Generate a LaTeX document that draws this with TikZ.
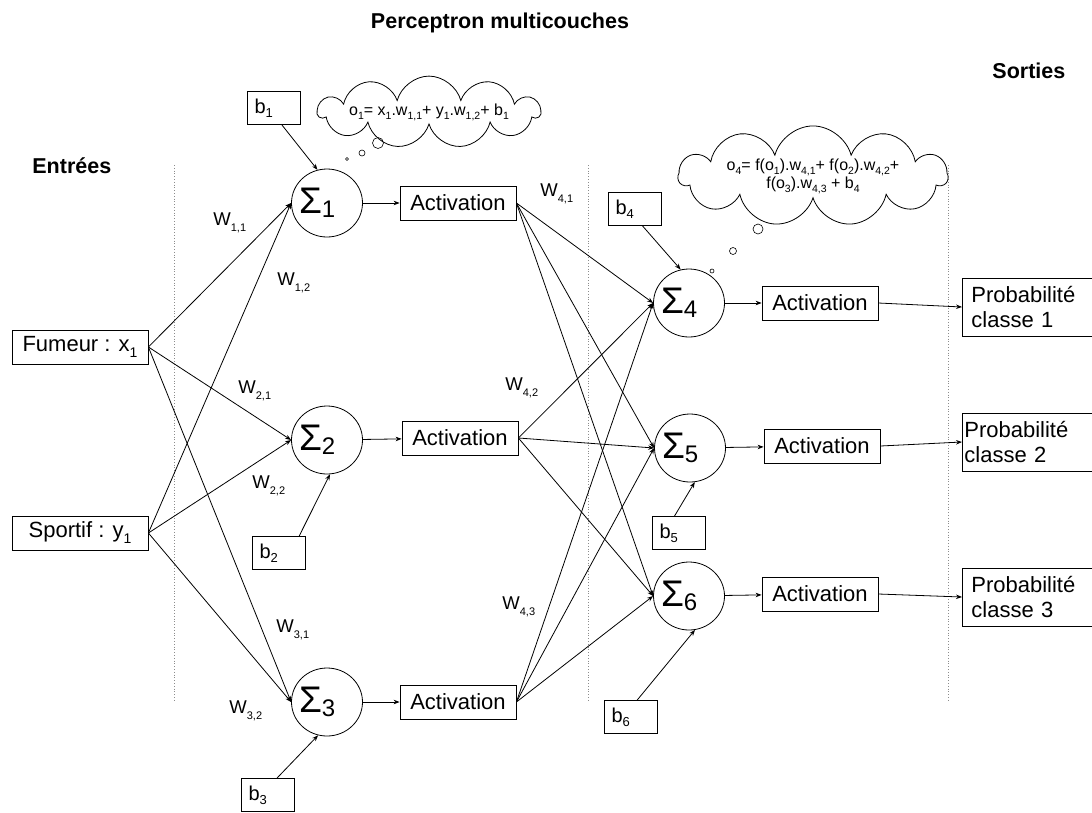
\documentclass[tikz,border=0pt]{standalone}
\usepackage{fontspec}
\setmainfont{Liberation Sans}
\usetikzlibrary{arrows.meta,positioning,shapes.geometric,shapes.symbols}

\newcommand{\ind}[1]{\raisebox{-4pt}{\fontsize{13}{13}\selectfont #1}}
\newcommand{\indx}[1]{\raisebox{-6pt}{\fontsize{14}{14}\selectfont #1}}
\newcommand{\wlab}[1]{W\raisebox{-6pt}{\fontsize{11}{11}\selectfont #1}}
\newcommand{\csub}[1]{\raisebox{-4pt}{\fontsize{10.5}{10.5}\selectfont #1}}
\newcommand{\somme}[1]{\makebox[36pt][l]{\hspace*{-10pt}{\fontsize{37}{37}\selectfont Σ}\raisebox{-4pt}{\fontsize{24}{24}\selectfont #1}}}

\begin{document}
\begin{tikzpicture}[x=1pt,y=-1pt,->,>={Stealth[length=6pt,width=4.5pt]},line width=0.8pt]
\tikzstyle{neurone}=[ellipse,draw,inner sep=0pt,minimum width=71pt,minimum height=68pt]
\tikzstyle{boite}=[rectangle,draw,inner sep=0pt,minimum height=34pt,font=\fontsize{22}{22}\selectfont]
\tikzstyle{activ}=[boite,minimum width=116pt]
\tikzstyle{entree}=[boite,minimum width=136pt]
\tikzstyle{biais}=[rectangle,draw,minimum height=33pt,text width=39pt,inner xsep=7pt,inner ysep=0pt,align=left,font=\fontsize{20}{20}\selectfont]
\tikzstyle{sortie}=[rectangle,draw,minimum height=58pt,text width=112pt,inner xsep=9pt,align=left,anchor=west,font=\fontsize{22}{25.5}\selectfont]
\tikzstyle{nuage}=[cloud,draw,cloud puffs=11,cloud ignores aspect,inner sep=0pt,align=center,font=\fontsize{16}{18}\selectfont]
\tikzstyle{poids}=[anchor=base west,inner sep=0pt,font=\fontsize{18.5}{18.5}\selectfont]
\tikzstyle{titre}=[inner sep=0pt,anchor=base west,font=\bfseries\fontsize{21.5}{21.5}\selectfont]
\tikzstyle{separation}=[-,draw=black!45,dotted,line width=0.8pt]
\tikzstyle{bulle}=[-,draw,line width=0.6pt]

\useasboundingbox (0,0) rectangle (1092,812);
\fill[white] (0,0) rectangle (1092,812);

% titres
\node[titre,anchor=base] (T) at (500,28) {Perceptron multicouches};
\node[titre] (TE) at (32,173) {Entrées};
\node[titre] (TS) at (992,78) {Sorties};

% separations
\draw[separation] (174,165) -- (174,700);
\draw[separation] (588,165) -- (588,700);
\draw[separation] (948,165) -- (948,700);

% entrees
\node[entree] (X) at (80,347) {Fumeur : x\indx{1}};
\node[entree] (Y) at (80,533) {Sportif : y\indx{1}};

% couche cachee
\node[neurone] (S1) at (327,203) {\somme{1}};
\node[neurone] (S2) at (327,440) {\somme{2}};
\node[neurone] (S3) at (327,702) {\somme{3}};
\node[activ] (A1) [right of=S1,node distance=131pt] {Activation};
\node[activ] (A2) [right of=S2,node distance=133pt,yshift=2pt] {Activation};
\node[activ] (A3) [right of=S3,node distance=131pt] {Activation};
\node[biais] (B1) at (274,108) {b\ind{1}};
\node[biais] (B2) at (279,553) {b\ind{2}};
\node[biais] (B3) at (268,795) {b\ind{3}};

% couche de sortie
\node[neurone] (S4) at (689,303) {\somme{4}};
\node[neurone] (S5) at (690,448) {\somme{5}};
\node[neurone] (S6) at (689,596) {\somme{6}};
\node[activ] (A4) [right of=S4,node distance=131pt] {Activation};
\node[activ] (A5) [right of=S5,node distance=132pt,yshift=2pt] {Activation};
\node[activ] (A6) [right of=S6,node distance=131pt,yshift=2pt] {Activation};
\node[biais] (B4) at (635,209) {b\ind{4}};
\node[biais] (B5) at (679,533) {b\ind{5}};
\node[biais] (B6) at (631,717) {b\ind{6}};

% sorties
\node[sortie] (P1) at (962,307) {Probabilité\\classe 1};
\node[sortie,inner xsep=2pt,text width=126pt] (P2) at (962,442) {Probabilité\\classe 2};
\node[sortie] (P3) at (962,597) {Probabilité\\classe 3};

% nuages
\node[nuage,minimum width=222pt,minimum height=59pt] (N1) at (429,112)
  {o\csub{1}= x\csub{1}.w\csub{1,1}+ y\csub{1}.w\csub{1,2}+ b\csub{1}};
\node[nuage,minimum width=269pt,minimum height=67pt] (N2) at (813,176)
  {o\csub{4}= f(o\csub{1}).w\csub{4,1}+ f(o\csub{2}).w\csub{4,2}+\\f(o\csub{3}).w\csub{4,3} + b\csub{4}};
\draw[bulle] (347,159) circle[radius=1.5pt];
\draw[bulle] (362,153) circle[radius=3pt];
\draw[bulle] (378,143) circle[radius=5.5pt];
\draw[bulle] (712,271) circle[radius=2pt];
\draw[bulle] (733,251) circle[radius=3.5pt];
\draw[bulle] (758,229) circle[radius=5pt];

% poids
\node[poids] (W11) at (213,225) {\wlab{1,1}};
\node[poids] (W12) at (277,285) {\wlab{1,2}};
\node[poids] (W21) at (238,393) {\wlab{2,1}};
\node[poids] (W22) at (252,488) {\wlab{2,2}};
\node[poids] (W31) at (276,632) {\wlab{3,1}};
\node[poids] (W32) at (229,713) {\wlab{3,2}};
\node[poids] (W41) at (540,196) {\wlab{4,1}};
\node[poids] (W42) at (505,390) {\wlab{4,2}};
\node[poids] (W43) at (502,609) {\wlab{4,3}};

\path
(X.east) edge (S1.west)
(X.east) edge (S2.west)
(X.east) edge (S3.west)
(Y.east) edge (S1.west)
(Y.east) edge (S2.west)
(Y.east) edge (S3.west)
(B1.-65) edge (S1.106)
(B2.40) edge (S2.-85)
(B3.62) edge (S3.-105)
(S1) edge (A1)
(S2) edge (A2)
(S3) edge (A3)
(A1.east) edge (S4.west)
(A1.east) edge (S5.west)
(A1.east) edge (S6.west)
(A2.east) edge (S4.west)
(A2.east) edge (S5.west)
(A2.east) edge (S6.west)
(A3.east) edge (S4.west)
(A3.east) edge (S5.west)
(A3.east) edge (S6.west)
(B4.-66) edge (S4.104)
(B5.105) edge (S5.-82)
(B6.70) edge (S6.-80)
(S4) edge (A4)
(S5) edge (A5)
(S6) edge (A6)
(A4.east) edge (P1.west)
(A5.east) edge (P2.west)
(A6.east) edge (P3.west);
\end{tikzpicture}
\end{document}
